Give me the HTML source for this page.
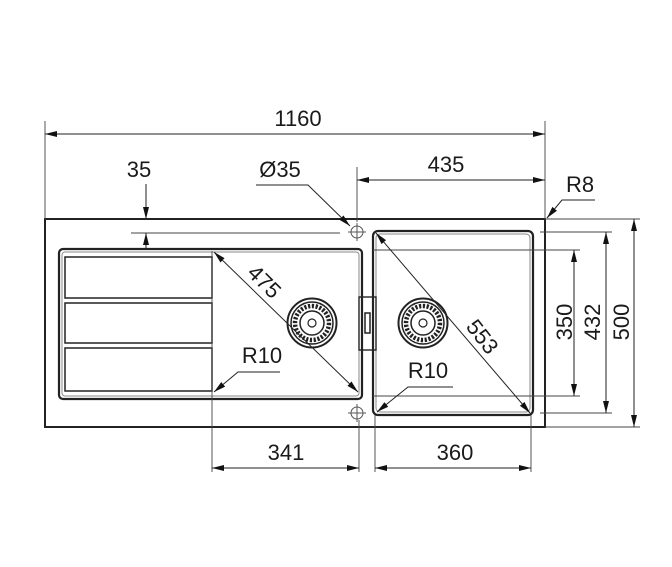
<!DOCTYPE html>
<html><head><style>
html,body{margin:0;padding:0;background:#fff;}
svg{display:block;}
text{font-family:"Liberation Sans",sans-serif;font-size:22px;fill:#1a1a1a;}
</style></head><body>
<svg width="672" height="567" viewBox="0 0 672 567" xmlns="http://www.w3.org/2000/svg">
<defs>
<marker id="a" viewBox="0 0 12 6" refX="12" refY="3" markerWidth="12" markerHeight="6" orient="auto-start-reverse" markerUnits="userSpaceOnUse">
<path d="M0,0 L12,3 L0,6 z" fill="#111"/></marker>
<g id="drain">
<circle r="24.5" fill="none" stroke="#222" stroke-width="2"/>
<circle r="21" fill="none" stroke="#222" stroke-width="1.5"/>
<circle r="17" fill="none" stroke="#222" stroke-width="4.5" stroke-dasharray="2.2 1.6"/>
<circle r="12" fill="none" stroke="#222" stroke-width="1.5"/>
<circle r="4" fill="none" stroke="#222" stroke-width="1.2"/>
</g>
<g id="tap">
<circle r="6" fill="none" stroke="#555" stroke-width="1"/>
<line x1="-9" y1="0" x2="9" y2="0" stroke="#555" stroke-width="1"/>
<line x1="0" y1="-9" x2="0" y2="9" stroke="#555" stroke-width="1"/>
</g>
</defs>
<g fill="none" stroke="#222">
<rect x="45" y="219" width="500" height="208" stroke-width="2"/>
<rect x="59" y="249" width="303" height="150" rx="4" stroke-width="2.2"/>
<rect x="62" y="252" width="297" height="144" rx="3" stroke="#888" stroke-width="1"/>
<rect x="65" y="257" width="147" height="41" stroke-width="1.5"/>
<rect x="65" y="303" width="147" height="40" stroke-width="1.5"/>
<rect x="65" y="348" width="147" height="43" stroke-width="1.5"/>
<rect x="373" y="231" width="160" height="184" rx="5" stroke-width="2.2"/>
<rect x="376" y="234" width="154" height="178" rx="4" stroke="#888" stroke-width="1"/>
<rect x="359" y="297" width="17" height="53" stroke-width="1.4"/>
<rect x="365" y="313" width="5" height="20" stroke-width="1.5"/>
<g stroke="#444" stroke-width="0.9">
<line x1="45" y1="121" x2="45" y2="219"/>
<line x1="545" y1="121" x2="545" y2="219"/>
<line x1="357" y1="167" x2="357" y2="222"/>
<line x1="131" y1="233" x2="340" y2="233"/>
<line x1="212" y1="251" x2="212" y2="472"/>
<line x1="359" y1="420" x2="359" y2="472"/>
<line x1="375" y1="415" x2="375" y2="472"/>
<line x1="531" y1="415" x2="531" y2="472"/>
<line x1="545" y1="219" x2="640" y2="219"/>
<line x1="545" y1="427" x2="640" y2="427"/>
<line x1="540" y1="232" x2="612" y2="232"/>
<line x1="540" y1="413" x2="612" y2="413"/>
<line x1="373" y1="250" x2="580" y2="250"/>
<line x1="373" y1="396" x2="580" y2="396"/>
</g>
<g stroke="#222" stroke-width="1" marker-start="url(#a)" marker-end="url(#a)">
<line x1="45" y1="134" x2="545" y2="134"/>
<line x1="357" y1="180" x2="545" y2="180"/>
<line x1="212" y1="468" x2="359" y2="468"/>
<line x1="375" y1="468" x2="531" y2="468"/>
<line x1="574" y1="250" x2="574" y2="396"/>
<line x1="606" y1="232" x2="606" y2="413"/>
<line x1="634" y1="219" x2="634" y2="427"/>
<line x1="214" y1="252" x2="358" y2="392"/>
<line x1="376" y1="233" x2="530" y2="413"/>
</g>
<g stroke="#222" stroke-width="1">
<line x1="146" y1="184" x2="146" y2="219" marker-end="url(#a)"/>
<line x1="146" y1="249" x2="146" y2="233" marker-end="url(#a)"/>
<polyline points="256,185 308,185 350,226" marker-end="url(#a)"/>
<polyline points="595,200 562,200 547,218" marker-end="url(#a)"/>
<polyline points="280,372 238,372 214,392" marker-end="url(#a)"/>
<polyline points="453,387 408,387 377,412" marker-end="url(#a)"/>
</g>
</g>
<use href="#tap" x="357" y="232"/>
<use href="#tap" x="357" y="413"/>
<use href="#drain" x="312" y="323"/>
<use href="#drain" x="423" y="323"/>
<text x="298" y="126" text-anchor="middle">1160</text>
<text x="446" y="172" text-anchor="middle">435</text>
<text x="139" y="177" text-anchor="middle">35</text>
<text x="280" y="177" text-anchor="middle">Ø35</text>
<text x="580" y="192" text-anchor="middle">R8</text>
<text x="262" y="363" text-anchor="middle">R10</text>
<text x="428" y="378" text-anchor="middle">R10</text>
<text x="286" y="460" text-anchor="middle">341</text>
<text x="455" y="460" text-anchor="middle">360</text>
<text transform="translate(264,282) rotate(45)" text-anchor="middle" dy="7">475</text>
<text transform="translate(482,337) rotate(52)" text-anchor="middle" dy="7">553</text>
<text transform="translate(565,322) rotate(-90)" text-anchor="middle" dy="7">350</text>
<text transform="translate(593,322) rotate(-90)" text-anchor="middle" dy="7">432</text>
<text transform="translate(622,322) rotate(-90)" text-anchor="middle" dy="7">500</text>
</svg>
</body></html>
